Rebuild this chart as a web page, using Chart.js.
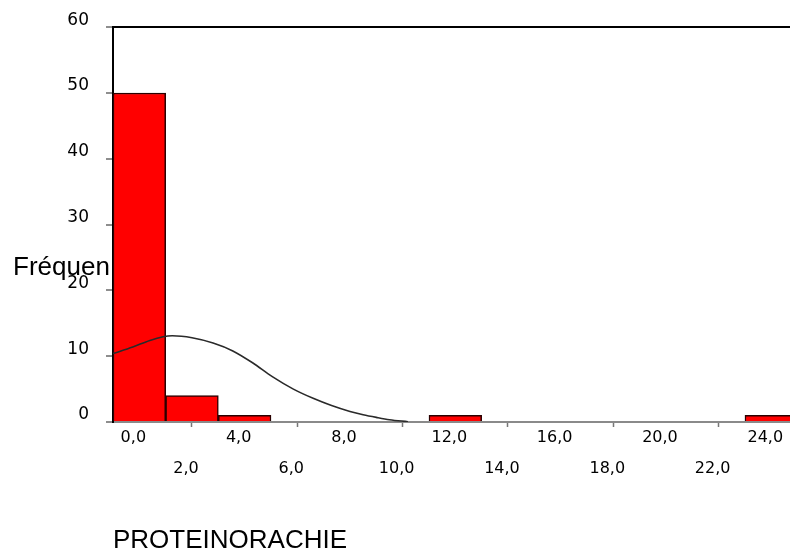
<!DOCTYPE html>
<html><head><meta charset="utf-8">
<script src="https://cdn.jsdelivr.net/npm/chart.js@4.4.1/dist/chart.umd.min.js"></script>
<style>html,body{margin:0;padding:0;background:#fff;overflow:hidden}#wrap{width:790px;height:559px;position:relative}canvas{display:block}</style>
</head><body><div id="wrap"><canvas id="c" width="790" height="559" style="width:790px;height:559px"></canvas></div>
<script>
// Histogram bins (centre of each 2-unit bin) and their frequencies
const binCenters = [0, 2, 4, 6, 8, 10, 12, 14, 16, 18, 20, 22, 24];
const frequencies = [50, 4, 1, 0, 0, 0, 1, 0, 0, 0, 0, 0, 1];
// Normal curve
const curveX = [-1.0, -0.25, 0.4, 0.9, 1.25, 2.0, 2.8, 3.55, 4.3, 5.05, 5.85, 6.6, 7.3, 8.0, 8.5, 9.0, 9.5, 10.2];
const curveY = [10.4, 11.4, 12.4, 12.95, 13.1, 12.8, 12.0, 10.8, 9.0, 6.9, 5.0, 3.6, 2.5, 1.6, 1.1, 0.7, 0.35, 0.05];
// Tick labels
const xTickValues = [0, 2, 4, 6, 8, 10, 12, 14, 16, 18, 20, 22, 24];
const xTickLabels = ['0,0', '2,0', '4,0', '6,0', '8,0', '10,0', '12,0', '14,0', '16,0', '18,0', '20,0', '22,0', '24,0'];
const yTickValues = [0, 10, 20, 30, 40, 50, 60];
const yTitle = 'Fréquen';
const xTitle = 'PROTEINORACHIE';

const yTitlePlugin = {
  id: 'yTitle',
  afterDraw(chart) {
    const ctx = chart.ctx;
    ctx.save();
    ctx.font = '26px "Liberation Sans", Arial, sans-serif';
    ctx.fillStyle = '#000';
    ctx.textAlign = 'left';
    ctx.textBaseline = 'alphabetic';
    ctx.fillText(yTitle, 13, 275);
    ctx.restore();
  }
};

new Chart(document.getElementById('c'), {
  type: 'bar',
  data: {
    datasets: [
      {
        type: 'line',
        data: curveX.map((x, i) => ({ x: x, y: curveY[i] })),
        borderColor: '#2a2a2a',
        borderWidth: 1.6,
        pointRadius: 0,
        fill: false,
        tension: 0.4,
        cubicInterpolationMode: 'monotone',
        order: 0
      },
      {
        type: 'bar',
        data: binCenters.map((x, i) => ({ x: x, y: frequencies[i] })),
        backgroundColor: '#ff0000',
        borderColor: '#2a0000',
        borderWidth: 1.5,
        barPercentage: 1,
        categoryPercentage: 1,
        order: 1
      }
    ]
  },
  options: {
    responsive: false,
    animation: false,
    devicePixelRatio: 1,
    layout: { padding: { top: 22, right: 0, left: 0, bottom: 0 } },
    plugins: { legend: { display: false }, tooltip: { enabled: false } },
    scales: {
      x: {
        type: 'linear',
        offset: false,
        min: -1,
        max: 24.71,
        afterBuildTicks: s => { s.ticks = xTickValues.map(v => ({ value: v })); },
        afterFit: s => { s.height = 137; },
        ticks: {
          autoSkip: false,
          maxRotation: 0,
          minRotation: 0,
          includeBounds: false,
          labelOffset: -6,
          padding: -4.5,
          color: '#000',
          font: { family: 'DejaVu Sans', size: 16, lineHeight: 1.94 },
          callback: (v) => {
            const i = xTickValues.indexOf(v);
            return i % 2 === 0 ? [xTickLabels[i]] : ['', xTickLabels[i]];
          }
        },
        grid: {
          offset: false,
          drawOnChartArea: false,
          tickLength: 5,
          tickWidth: 1.5,
          tickColor: ctx => (xTickValues.indexOf(ctx.tick ? ctx.tick.value : -99) % 2 === 1 ? '#777' : 'rgba(0,0,0,0)')
        },
        border: { color: '#8a8a8a', width: 2 },
        title: {
          display: true,
          text: xTitle,
          align: 'start',
          color: '#000',
          font: { family: 'Liberation Sans', size: 26, lineHeight: 1.2 },
          padding: { top: 0, bottom: 3 }
        }
      },
      y: {
        min: 0,
        max: 60,
        afterBuildTicks: s => { s.ticks = yTickValues.map(v => ({ value: v })); },
        afterFit: s => { s.width = 113; },
        ticks: {
          color: '#000',
          padding: 17,
          labelOffset: -7,
          font: { family: 'DejaVu Sans', size: 17 }
        },
        grid: {
          color: ctx => (ctx.tick && ctx.tick.value === 60 ? '#000' : 'rgba(0,0,0,0)'),
          lineWidth: 2,
          tickLength: 7,
          tickWidth: 1.2,
          tickColor: '#444'
        },
        border: { color: '#000', width: 2 }
      }
    }
  },
  plugins: [yTitlePlugin]
});
</script>
</body></html>
